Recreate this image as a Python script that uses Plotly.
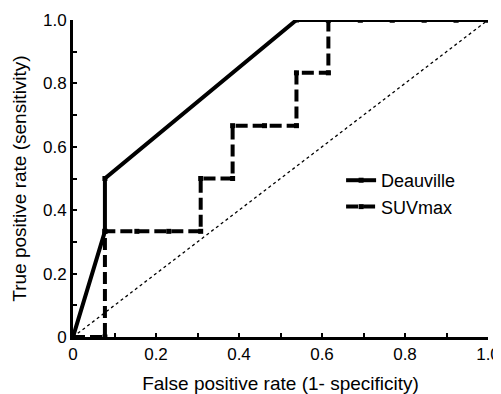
import plotly.graph_objects as go

deauville_fpr = [0, 1/13, 1/13, 7/13, 8/13, 9/13, 10/13, 11/13, 12/13, 1.0]
deauville_tpr = [0, 1/3, 0.5, 1.0, 1.0, 1.0, 1.0, 1.0, 1.0, 1.0]

suv_fpr = [0, 1/13, 1/13, 2/13, 3/13, 4/13, 4/13, 5/13, 5/13, 6/13, 7/13, 7/13, 8/13, 8/13, 9/13, 10/13, 11/13, 12/13, 1.0]
suv_tpr = [0, 0, 1/3, 1/3, 1/3, 1/3, 0.5, 0.5, 2/3, 2/3, 2/3, 5/6, 5/6, 1.0, 1.0, 1.0, 1.0, 1.0, 1.0]

diag = [0, 1]
tickvals = [0, 0.2, 0.4, 0.6, 0.8, 1.0]
ticktext = ["0", "0.2", "0.4", "0.6", "0.8", "1.0"]

FONT = "Liberation Sans, Arial, Helvetica, sans-serif"

fig = go.Figure()
fig.add_trace(go.Scatter(x=diag, y=diag, mode="lines", showlegend=False,
                         line=dict(color="black", width=1.3, dash="dot")))
fig.add_trace(go.Scatter(x=suv_fpr, y=suv_tpr, mode="lines+markers", name="SUVmax",
                         line=dict(color="black", width=4, dash="12px,5px"),
                         marker=dict(symbol="square", size=5, color="black")))
fig.add_trace(go.Scatter(x=deauville_fpr, y=deauville_tpr, mode="lines+markers", name="Deauville",
                         line=dict(color="black", width=4),
                         marker=dict(symbol="square", size=5, color="black")))

axis_common = dict(
    range=[0, 1], tickvals=tickvals, ticktext=ticktext,
    ticks="inside", ticklen=4, tickwidth=1.5, tickcolor="black",
    minor=dict(dtick=0.1, ticks="inside", ticklen=4, tickwidth=1.5, tickcolor="black"),
    showline=True, linecolor="black", linewidth=3, showgrid=False, zeroline=False,
    tickfont=dict(family=FONT, size=17, color="black"),
    title_font=dict(family=FONT, size=19, color="black"),
    fixedrange=True, automargin=False, ticklabeloverflow="allow",
)
fig.update_xaxes(title_text="False positive rate (1- specificity)", title_standoff=14, **axis_common)
fig.update_yaxes(title_text="True positive rate (sensitivity)", title_standoff=12, **axis_common)

fig.update_layout(
    width=493, height=386,
    margin=dict(l=65, r=13, t=12, b=57),
    paper_bgcolor="white", plot_bgcolor="white",
    showlegend=True,
    legend=dict(x=0.646, y=0.552, xanchor="left", yanchor="top", traceorder="reversed",
                itemwidth=30, bgcolor="rgba(0,0,0,0)",
                font=dict(family=FONT, size=18, color="black")),
)
fig.write_html("out.html")
